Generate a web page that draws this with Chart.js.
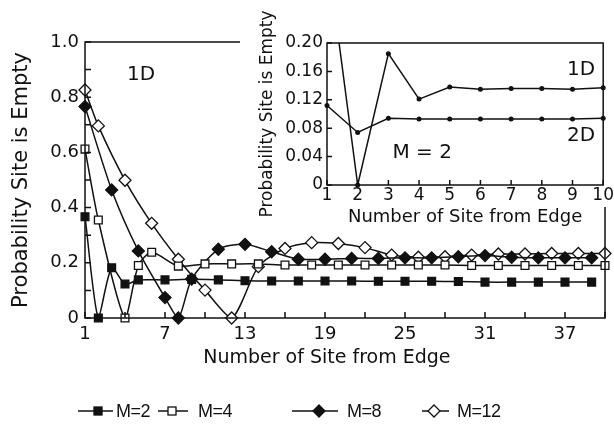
<!DOCTYPE html>
<html>
<head>
<meta charset="utf-8">
<script src="https://cdn.jsdelivr.net/npm/chart.js@4.4.1/dist/chart.umd.min.js"></script>
<style>
  html, body { margin: 0; padding: 0; background: #fff; }
  #wrap { position: relative; width: 614px; height: 435px; overflow: hidden; background: #fff; }
  #mainChart { position: absolute; left: 0; top: 0; }
  #insetChart { position: absolute; left: 240px; top: 0; }
  .item { position: absolute; top: 401px; height: 20px; display: flex; align-items: center;
          font-family: 'Liberation Sans', sans-serif; font-size: 18px; color: #111; }
  .item svg { display: block; }
  .item span { letter-spacing: -0.5px; }
</style>
</head>
<body>
<div id="wrap">
  <canvas id="mainChart" width="614" height="435"></canvas>
  <canvas id="insetChart" width="374" height="230"></canvas>
</div>
<script>
// main panel: site index and probability that the site is empty, per M
const sitesM2 = [1, 2, 3, 4, 5, 7, 9, 11, 13, 15, 17, 19, 21, 23, 25, 27, 29, 31, 33, 35, 37, 39];
const valuesM2 = [0.367, 0, 0.182, 0.123, 0.138, 0.138, 0.14, 0.138, 0.135, 0.134, 0.134, 0.134, 0.134, 0.133, 0.133, 0.133, 0.132, 0.13, 0.13, 0.13, 0.13, 0.13];

const sitesM4 = [1, 2, 4, 5, 6, 8, 10, 12, 14, 16, 18, 20, 22, 24, 26, 28, 30, 32, 34, 36, 38, 40];
const valuesM4 = [0.612, 0.355, 0, 0.19, 0.238, 0.188, 0.196, 0.196, 0.196, 0.192, 0.192, 0.192, 0.192, 0.192, 0.192, 0.192, 0.19, 0.19, 0.19, 0.19, 0.19, 0.19];

const sitesM8 = [1, 3, 5, 7, 8, 9, 11, 13, 15, 17, 19, 21, 23, 25, 27, 29, 31, 33, 35, 37, 39];
const valuesM8 = [0.766, 0.464, 0.243, 0.074, 0, 0.141, 0.249, 0.267, 0.24, 0.213, 0.213, 0.216, 0.216, 0.218, 0.218, 0.222, 0.226, 0.22, 0.218, 0.218, 0.218];

const sitesM12 = [1, 2, 4, 6, 8, 10, 12, 14, 16, 18, 20, 22, 24, 26, 28, 30, 32, 34, 36, 38, 40];
const valuesM12 = [0.826, 0.696, 0.499, 0.343, 0.213, 0.101, 0, 0.186, 0.252, 0.273, 0.27, 0.255, 0.228, 0.22, 0.222, 0.228, 0.232, 0.232, 0.234, 0.234, 0.234];

const seriesLabels = ['M=2', 'M=4', 'M=8', 'M=12'];

const xTickValues = [1, 4, 7, 10, 13, 16, 19, 22, 25, 28, 31, 34, 37, 40];
const xTickLabels = [1, 7, 13, 19, 25, 31, 37];
const yTickValues = [0, 0.1, 0.2, 0.3, 0.4, 0.5, 0.6, 0.7, 0.8, 0.9, 1.0];
const yTickLabels = [0, 0.2, 0.4, 0.6, 0.8, 1.0];

// inset: M=2 near the edge, 1D vs 2D
const insetSites = [1, 2, 3, 4, 5, 6, 7, 8, 9, 10];
const inset1D = [0.33, 0, 0.185, 0.121, 0.138, 0.135, 0.136, 0.136, 0.135, 0.137];
const inset2D = [0.112, 0.074, 0.094, 0.093, 0.093, 0.093, 0.093, 0.093, 0.093, 0.094];
const insetYTicks = [0, 0.04, 0.08, 0.12, 0.16, 0.20];

const INK = '#111';
const FONT = 'DejaVu Sans';
Chart.defaults.font.family = FONT;
Chart.defaults.color = INK;

const toPoints = (xs, ys) => xs.map((x, i) => ({ x: x, y: ys[i] }));
const hasValue = (list, v) => list.some(l => Math.abs(l - v) < 1e-6);

// box round the plot, inward tick marks, and text notes placed in data units
const frame = {
  id: 'frame',
  beforeDraw(chart, args, opts) {
    if (!opts.whiteTop) return;
    const ctx = chart.ctx;
    ctx.save();
    ctx.fillStyle = '#fff';
    ctx.fillRect(0, 0, chart.width, opts.whiteTop);
    ctx.restore();
  },
  afterDraw(chart, args, opts) {
    const { ctx, chartArea: a, scales: { x, y } } = chart;
    ctx.save();
    ctx.strokeStyle = INK;
    ctx.lineWidth = 1.5;
    ctx.strokeRect(a.left, a.top, a.right - a.left, a.bottom - a.top);
    ctx.beginPath();
    x.ticks.forEach(t => {
      const px = x.getPixelForValue(t.value);
      ctx.moveTo(px, a.bottom);
      ctx.lineTo(px, a.bottom - opts.tickLen);
    });
    y.ticks.forEach(t => {
      const py = y.getPixelForValue(t.value);
      ctx.moveTo(a.left, py);
      ctx.lineTo(a.left + opts.tickLen, py);
    });
    ctx.stroke();
    ctx.fillStyle = INK;
    ctx.textAlign = 'center';
    ctx.textBaseline = 'middle';
    (opts.notes || []).forEach(n => {
      ctx.font = n.size + 'px "' + FONT + '"';
      ctx.fillText(n.text, x.getPixelForValue(n.x), y.getPixelForValue(n.y));
    });
    ctx.restore();
  }
};

function series(label, xs, ys, style, filled, radius) {
  return {
    label: label,
    data: toPoints(xs, ys),
    borderColor: INK,
    borderWidth: 1.5,
    tension: 0.25,
    pointStyle: style,
    pointRadius: radius,
    pointBackgroundColor: filled ? INK : '#fff',
    pointBorderColor: INK,
    pointBorderWidth: 1.3,
    clip: false
  };
}

new Chart(document.getElementById('mainChart'), {
  type: 'line',
  data: {
    datasets: [
      series(seriesLabels[0], sitesM2, valuesM2, 'rect', true, 5.5),
      series(seriesLabels[1], sitesM4, valuesM4, 'rect', false, 5.5),
      series(seriesLabels[2], sitesM8, valuesM8, 'rectRot', true, 6),
      series(seriesLabels[3], sitesM12, valuesM12, 'rectRot', false, 6)
    ]
  },
  options: {
    responsive: false,
    animation: false,
    devicePixelRatio: 1,
    layout: { padding: { left: 0, top: 42, right: 9, bottom: 57 } },
    plugins: {
      legend: { display: false },
      tooltip: { enabled: false },
      frame: { tickLen: 6, notes: [{ text: '1D', x: 5.2, y: 0.88, size: 20 }] }
    },
    scales: {
      x: {
        type: 'linear', min: 1, max: 40,
        afterBuildTicks: s => { s.ticks = xTickValues.map(v => ({ value: v })); },
        afterFit: s => { s.height = 60; },
        grid: { display: false, drawTicks: false },
        border: { display: false },
        ticks: {
          autoSkip: false, maxRotation: 0, padding: 6,
          font: { size: 18 },
          callback: v => hasValue(xTickLabels, v) ? String(v) : ''
        },
        title: {
          display: true,
          text: 'Number of Site from Edge\u00a0\u00a0\u00a0\u00a0\u00a0\u00a0',
          font: { size: 19 },
          padding: { top: 0, bottom: 9 }
        }
      },
      y: {
        min: 0, max: 1,
        afterBuildTicks: s => { s.ticks = yTickValues.map(v => ({ value: v })); },
        afterFit: s => { s.width = 85; },
        grid: { display: false, drawTicks: false },
        border: { display: false },
        ticks: {
          autoSkip: false, padding: 6,
          font: { size: 18 },
          callback: v => hasValue(yTickLabels, v) ? (v === 0 ? '0' : v.toFixed(1)) : ''
        },
        title: {
          display: true,
          text: 'Probability Site is Empty',
          font: { size: 21 },
          padding: { top: 9, bottom: 0 }
        }
      }
    }
  },
  plugins: [frame]
});

function insetLine(label, ys) {
  return {
    label: label,
    data: toPoints(insetSites, ys),
    borderColor: INK,
    borderWidth: 1.5,
    tension: 0,
    pointStyle: 'circle',
    pointRadius: 2.5,
    pointBackgroundColor: INK,
    pointBorderColor: INK,
    pointBorderWidth: 0,
    clip: { left: 5, right: 5, top: 0, bottom: 5 }
  };
}

new Chart(document.getElementById('insetChart'), {
  type: 'line',
  data: { datasets: [insetLine('1D', inset1D), insetLine('2D', inset2D)] },
  options: {
    responsive: false,
    animation: false,
    devicePixelRatio: 1,
    layout: { padding: { left: 0, top: 43, right: 9, bottom: 0 } },
    plugins: {
      legend: { display: false },
      tooltip: { enabled: false },
      frame: {
        whiteTop: 207,
        tickLen: 5,
        notes: [
          { text: '1D', x: 9.28, y: 0.162, size: 20 },
          { text: '2D', x: 9.28, y: 0.069, size: 20 },
          { text: 'M = 2', x: 4.1, y: 0.045, size: 20 }
        ]
      }
    },
    scales: {
      x: {
        type: 'linear', min: 1, max: 10,
        afterBuildTicks: s => { s.ticks = insetSites.map(v => ({ value: v })); },
        afterFit: s => { s.height = 45; },
        grid: { display: false, drawTicks: false },
        border: { display: false },
        ticks: { autoSkip: false, maxRotation: 0, padding: 0, font: { size: 17 } },
        title: {
          display: true,
          text: 'Number of Site from Edge',
          font: { size: 18 },
          padding: { top: 0, bottom: 2 }
        }
      },
      y: {
        min: 0, max: 0.2,
        afterBuildTicks: s => { s.ticks = insetYTicks.map(v => ({ value: v })); },
        afterFit: s => { s.width = 87; },
        grid: { display: false, drawTicks: false },
        border: { display: false },
        ticks: {
          autoSkip: false, padding: 4,
          font: { size: 17 },
          callback: v => v === 0 ? '0' : v.toFixed(2)
        },
        title: {
          display: true,
          text: 'Probability Site is Empty',
          font: { size: 17 },
          padding: { top: 17, bottom: 0 }
        }
      }
    }
  },
  plugins: [frame]
});

// legend row under the plot: line with marker, then the label
const legendMarks = [
  { left: 78, w: 35, cx: 20, shape: 'square', filled: true },
  { left: 158, w: 30, cx: 14, shape: 'square', filled: false },
  { left: 292, w: 46, cx: 27, shape: 'diamond', filled: true },
  { left: 422, w: 27, cx: 12, shape: 'diamond', filled: false }
];
const legendTextLeft = [116, 198, 347, 457];

const wrap = document.getElementById('wrap');
legendMarks.forEach((m, i) => {
  const fill = m.filled ? INK : '#fff';
  const mark = m.shape === 'square'
    ? '<rect x="' + (m.cx - 4) + '" y="6" width="8" height="8" fill="' + fill + '" stroke="' + INK + '" stroke-width="1.3"/>'
    : '<polygon points="' + m.cx + ',4 ' + (m.cx + 6) + ',10 ' + m.cx + ',16 ' + (m.cx - 6) + ',10" fill="' + fill + '" stroke="' + INK + '" stroke-width="1.3"/>';
  const sym = document.createElement('div');
  sym.className = 'item';
  sym.style.left = m.left + 'px';
  sym.innerHTML = '<svg width="' + m.w + '" height="20"><line x1="0" y1="10" x2="' + m.w + '" y2="10" stroke="' + INK + '" stroke-width="1.5"/>' + mark + '</svg>';
  wrap.appendChild(sym);
  const txt = document.createElement('div');
  txt.className = 'item';
  txt.style.left = legendTextLeft[i] + 'px';
  txt.innerHTML = '<span>' + seriesLabels[i] + '</span>';
  wrap.appendChild(txt);
});
</script>
</body>
</html>
